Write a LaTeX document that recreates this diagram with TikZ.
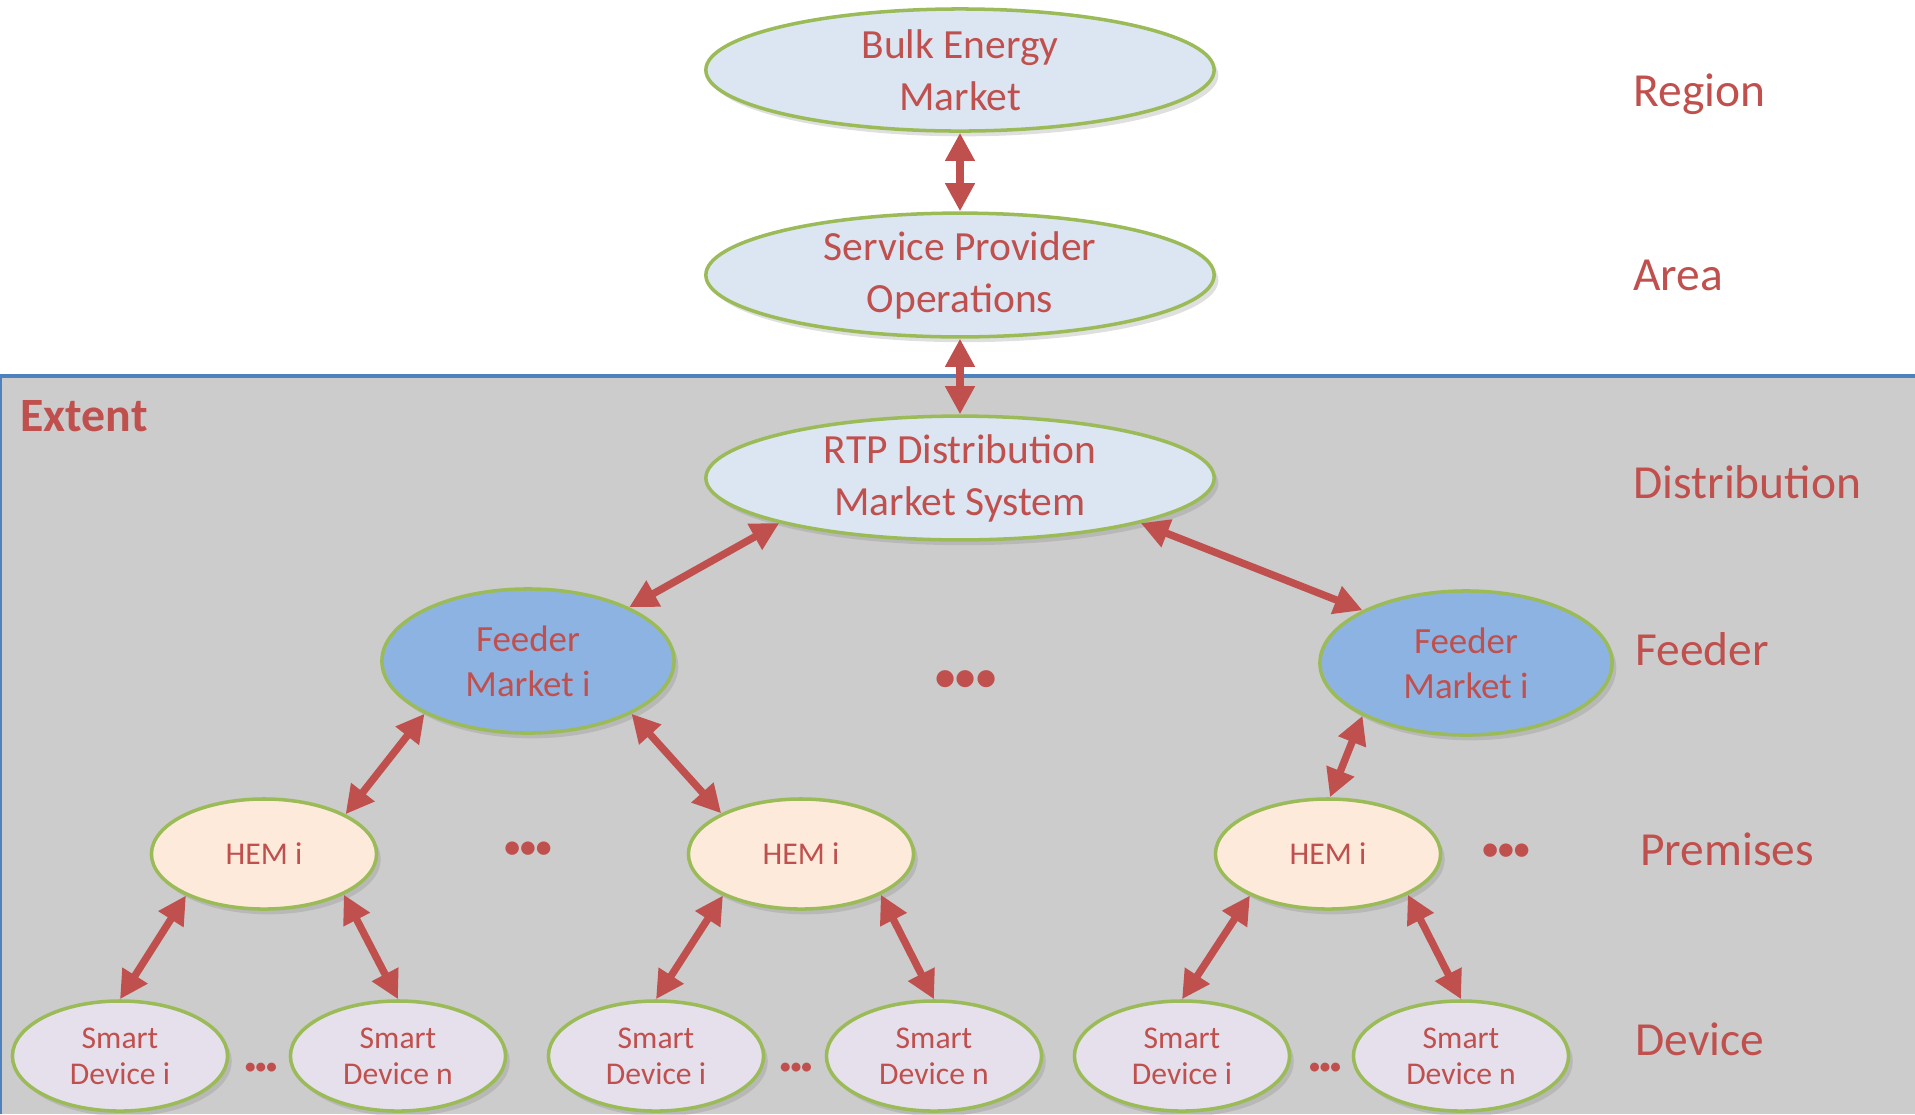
\documentclass[tikz,border=0pt]{standalone}
\usepackage{fontspec}
\setmainfont{Carlito}
\usetikzlibrary{shapes.geometric,arrows.meta,shadows}

\definecolor{txtred}{HTML}{C0504D}
\definecolor{edgegreen}{HTML}{9BBB59}
\definecolor{paleblue}{HTML}{DCE6F2}
\definecolor{feederblue}{HTML}{8DB3E2}
\definecolor{hemorange}{HTML}{FDEADA}
\definecolor{devlilac}{HTML}{E5E0EC}
\definecolor{extgray}{HTML}{CCCCCC}
\definecolor{extblue}{HTML}{4F81BD}

\tikzset{
  market/.style={ellipse, draw=edgegreen, line width=1pt, inner sep=0pt,
    align=center, text=txtred,
    drop shadow={shadow xshift=1.2pt, shadow yshift=-1.5pt, opacity=.25}},
  topnode/.style={market, fill=paleblue, minimum width=5.08cm,
    minimum height=1.22cm, font=\fontsize{11.8}{14.8}\selectfont},
  feeder/.style={market, fill=feederblue, minimum width=2.92cm,
    minimum height=1.44cm, font=\fontsize{10.5}{12.8}\selectfont},
  hem/.style={market, fill=hemorange, minimum width=2.25cm,
    minimum height=1.10cm, font=\fontsize{9}{10.3}\selectfont},
  device/.style={market, fill=devlilac, minimum width=2.15cm,
    minimum height=1.10cm, font=\fontsize{9}{10.3}\selectfont},
  tier/.style={anchor=west, text=txtred, font=\fontsize{13.5}{16}\selectfont},
  moredots/.style={text=txtred, inner sep=0pt,
    font=\bfseries\fontsize{#1}{#1}\selectfont},
  link/.style={draw=txtred, line width=2.1pt,
    {Triangle[length=8pt,width=8pt]}-{Triangle[length=8pt,width=8pt]}},
}

\begin{document}
\begin{tikzpicture}[x=0.01cm, y=-0.01cm]
  \useasboundingbox (0,0) rectangle (1915,1114);
  % extent box
  \fill[extgray] (0,376) rectangle (1915,1114);
  \draw[extblue, line width=1pt] (0,1114) -- (0,376) -- (1915,376);
  \node[anchor=west, text=txtred, font=\bfseries\fontsize{13.6}{16}\selectfont]
    (extent) at (8,416) {Extent};

  % upper levels
  \node[topnode] (bulk) at (960,70)  {Bulk Energy\\Market};
  \node[topnode] (spo)  at (960,275) {Service Provider\\Operations};
  \node[topnode] (rtp)  at (960,478) {RTP Distribution\\Market System};

  % feeders
  \node[feeder] (fl) at (528,661)  {Feeder\\Market i};
  \node[feeder] (fr) at (1466,663) {Feeder\\Market i};
  \node[moredots=11.5] (fdots) at (966,681) {•••};

  % premises
  \node[hem] (hem1) at (264,854)  {HEM i};
  \node[hem] (hem2) at (801,854)  {HEM i};
  \node[hem] (hem3) at (1328,854) {HEM i};
  \node[moredots=9] (hdots1) at (528,850)  {•••};
  \node[moredots=9] (hdots2) at (1506,852) {•••};

  % devices
  \node[device] (sd1) at (120,1056)  {Smart\\Device i};
  \node[device] (sd2) at (398,1056)  {Smart\\Device n};
  \node[device] (sd3) at (656,1056)  {Smart\\Device i};
  \node[device] (sd4) at (934,1056)  {Smart\\Device n};
  \node[device] (sd5) at (1182,1056) {Smart\\Device i};
  \node[device] (sd6) at (1461,1056) {Smart\\Device n};
  \node[moredots=6] (ddots1) at (261,1068)  {•••};
  \node[moredots=6] (ddots2) at (796,1068)  {•••};
  \node[moredots=6] (ddots3) at (1325,1068) {•••};

  % level names
  \node[tier] (lregion) at (1621,94)   {Region};
  \node[tier] (larea)   at (1621,275)  {Area};
  \node[tier] (ldist)   at (1621,482)  {Distribution};
  \node[tier] (lfeeder) at (1623,649)  {Feeder};
  \node[tier] (lprem)   at (1628,849)  {Premises};
  \node[tier] (ldevice) at (1623,1039) {Device};

  % links
  \draw[link] (bulk.south) -- (spo.north);
  \draw[link] (spo.south) -- (rtp.north);
  \draw[link] (rtp.194) -- (fl.28);
  \draw[link] (rtp.346) -- (fr.153);
  \draw[link] (fl.207) -- (hem1.26);
  \draw[link] (fl.333) -- (hem2.153);
  \draw[link] (fr.207) -- (hem3.88);
  \foreach \h/\a/\b in {hem1/sd1/sd2, hem2/sd3/sd4, hem3/sd5/sd6} {
    \draw[link] (\h.208) -- (\a.north);
    \draw[link] (\h.333) -- (\b.north);
  }
\end{tikzpicture}
\end{document}
